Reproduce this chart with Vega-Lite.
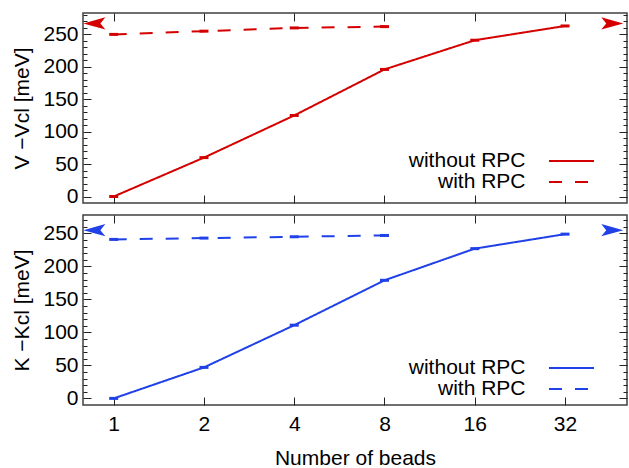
{
  "$schema": "https://vega.github.io/schema/vega-lite/v6.json",
  "autosize": {"type": "pad"},
  "padding": {"left": 11, "top": 11, "right": 1, "bottom": 0},
  "background": "white",
  "config": {
    "font": "Liberation Sans",
    "view": {"stroke": "#404040", "strokeWidth": 1.5},
    "axis": {
      "labelFont": "Liberation Sans", "titleFont": "Liberation Sans",
      "labelFontSize": 21, "titleFontSize": 21, "titleFontWeight": "normal",
      "labelColor": "#000", "titleColor": "#000",
      "domain": false, "grid": false, "tickColor": "#222", "tickWidth": 1
    },
    "legend": {"labelFont": "Liberation Sans", "labelFontSize": 21, "labelColor": "#000", "padding": 0}
  },
  "datasets": {
    "lines": [
      {"panel": "V", "series": "without RPC", "n": 1, "E": 0},
      {"panel": "V", "series": "without RPC", "n": 2, "E": 60},
      {"panel": "V", "series": "without RPC", "n": 4, "E": 125},
      {"panel": "V", "series": "without RPC", "n": 8, "E": 196},
      {"panel": "V", "series": "without RPC", "n": 16, "E": 241},
      {"panel": "V", "series": "without RPC", "n": 32, "E": 263},
      {"panel": "V", "series": "with RPC", "n": 1, "E": 250},
      {"panel": "V", "series": "with RPC", "n": 2, "E": 255},
      {"panel": "V", "series": "with RPC", "n": 4, "E": 260},
      {"panel": "V", "series": "with RPC", "n": 8, "E": 262},
      {"panel": "K", "series": "without RPC", "n": 1, "E": 0},
      {"panel": "K", "series": "without RPC", "n": 2, "E": 47},
      {"panel": "K", "series": "without RPC", "n": 4, "E": 111},
      {"panel": "K", "series": "without RPC", "n": 8, "E": 179},
      {"panel": "K", "series": "without RPC", "n": 16, "E": 227},
      {"panel": "K", "series": "without RPC", "n": 32, "E": 249},
      {"panel": "K", "series": "with RPC", "n": 1, "E": 241},
      {"panel": "K", "series": "with RPC", "n": 2, "E": 243},
      {"panel": "K", "series": "with RPC", "n": 4, "E": 245},
      {"panel": "K", "series": "with RPC", "n": 8, "E": 247}
    ],
    "arrows": [
      {"panel": "V", "dir": "left", "n": 0.862, "E": 267},
      {"panel": "V", "dir": "right", "n": 46, "E": 267},
      {"panel": "K", "dir": "left", "n": 0.862, "E": 255},
      {"panel": "K", "dir": "right", "n": 46, "E": 255}
    ]
  },
  "spacing": 5,
  "resolve": {
    "scale": {"x": "independent", "y": "independent", "strokeDash": "independent", "shape": "independent"},
    "legend": {"strokeDash": "independent"}
  },
  "vconcat": [
    {
      "width": 544, "height": 190,
      "resolve": {"axis": {"x": "independent", "y": "independent"}},
      "layer": [
        {
          "data": {"name": "lines"},
          "transform": [{"filter": "datum.panel === 'V'"}],
          "mark": {"type": "line", "color": "#d40000", "strokeWidth": 2},
          "encoding": {
            "x": {"field": "n", "type": "quantitative",
              "scale": {"type": "log", "base": 2, "domain": [0.79, 51.5], "nice": false},
              "axis": {"orient": "bottom", "values": [1, 2, 4, 8, 16, 32], "labels": false, "tickSize": -8, "title": null}},
            "y": {"field": "E", "type": "quantitative",
              "scale": {"domain": [-10, 283], "nice": false, "zero": false},
              "axis": {"orient": "left", "values": [0,10,20,30,40,50,60,70,80,90,100,110,120,130,140,150,160,170,180,190,200,210,220,230,240,250,260,270,280],
                "tickSize": {"condition": {"test": "datum.value % 50 === 0", "value": -8}, "value": -4},
                "labelFontSize": {"condition": {"test": "datum.value % 50 === 0", "value": 21}, "value": 0},
                "labelExpr": "datum.value % 50 === 0 ? datum.label : ''",
                "labelPadding": 13, "title": "V −Vcl [meV]", "titlePadding": 10}},
            "strokeDash": {"field": "series", "type": "nominal",
              "scale": {"domain": ["without RPC", "with RPC"], "range": [[1, 0], [13, 13]]},
              "legend": {"orient": "none", "legendX": 478, "legendY": 137.5, "title": null,
                "symbolType": "M-4.5,0L4.5,0", "symbolSize": 100, "symbolStrokeWidth": 2, "symbolStrokeColor": "#d40000",
                "labelAlign": "right", "labelOffset": -56.5, "labelLimit": 0, "rowPadding": -2}}
          }
        },
        {
          "data": {"name": "lines"},
          "transform": [{"filter": "datum.panel === 'V'"}],
          "mark": {"type": "tick", "orient": "horizontal", "size": 9, "thickness": 3, "color": "#d40000", "opacity": 1},
          "encoding": {
            "x": {"field": "n", "type": "quantitative",
              "axis": {"orient": "top", "values": [1, 2, 4, 8, 16, 32], "labels": false, "tickSize": -8, "title": null}},
            "y": {"field": "E", "type": "quantitative",
              "axis": {"orient": "right", "values": [0,10,20,30,40,50,60,70,80,90,100,110,120,130,140,150,160,170,180,190,200,210,220,230,240,250,260,270,280],
                "tickSize": {"condition": {"test": "datum.value % 50 === 0", "value": -8}, "value": -4},
                "labels": false, "title": null}}
          }
        },
        {
          "data": {"name": "arrows"},
          "transform": [{"filter": "datum.panel === 'V'"}],
          "mark": {"type": "point", "filled": true, "color": "#d40000", "opacity": 1, "size": 484, "strokeWidth": 0},
          "encoding": {
            "x": {"field": "n", "type": "quantitative", "axis": null},
            "y": {"field": "E", "type": "quantitative", "axis": null},
            "shape": {"field": "dir", "type": "nominal",
              "scale": {"domain": ["left", "right"], "range": ["M-1,0L1,-0.55L0.55,0L1,0.55Z", "M1,0L-1,-0.55L-0.55,0L-1,0.55Z"]},
              "legend": null}
          }
        }
      ]
    },
    {
      "width": 544, "height": 190,
      "resolve": {"axis": {"x": "independent", "y": "independent"}},
      "layer": [
        {
          "data": {"name": "lines"},
          "transform": [{"filter": "datum.panel === 'K'"}],
          "mark": {"type": "line", "color": "#2040e8", "strokeWidth": 2},
          "encoding": {
            "x": {"field": "n", "type": "quantitative",
              "scale": {"type": "log", "base": 2, "domain": [0.79, 51.5], "nice": false},
              "axis": {"orient": "bottom", "values": [1, 2, 4, 8, 16, 32], "tickSize": -8, "labelPadding": 16,
                "title": "Number of beads", "titlePadding": 13}},
            "y": {"field": "E", "type": "quantitative",
              "scale": {"domain": [-10, 278], "nice": false, "zero": false},
              "axis": {"orient": "left", "values": [0,10,20,30,40,50,60,70,80,90,100,110,120,130,140,150,160,170,180,190,200,210,220,230,240,250,260,270],
                "tickSize": {"condition": {"test": "datum.value % 50 === 0", "value": -8}, "value": -4},
                "labelFontSize": {"condition": {"test": "datum.value % 50 === 0", "value": 21}, "value": 0},
                "labelExpr": "datum.value % 50 === 0 ? datum.label : ''",
                "labelPadding": 13, "title": "K −Kcl [meV]", "titlePadding": 10}},
            "strokeDash": {"field": "series", "type": "nominal",
              "scale": {"domain": ["without RPC", "with RPC"], "range": [[1, 0], [13, 13]]},
              "legend": {"orient": "none", "legendX": 478, "legendY": 142.5, "title": null,
                "symbolType": "M-4.5,0L4.5,0", "symbolSize": 100, "symbolStrokeWidth": 2, "symbolStrokeColor": "#2040e8",
                "labelAlign": "right", "labelOffset": -56.5, "labelLimit": 0, "rowPadding": -2}}
          }
        },
        {
          "data": {"name": "lines"},
          "transform": [{"filter": "datum.panel === 'K'"}],
          "mark": {"type": "tick", "orient": "horizontal", "size": 9, "thickness": 3, "color": "#2040e8", "opacity": 1},
          "encoding": {
            "x": {"field": "n", "type": "quantitative",
              "axis": {"orient": "top", "values": [1, 2, 4, 8, 16, 32], "labels": false, "tickSize": -8, "title": null}},
            "y": {"field": "E", "type": "quantitative",
              "axis": {"orient": "right", "values": [0,10,20,30,40,50,60,70,80,90,100,110,120,130,140,150,160,170,180,190,200,210,220,230,240,250,260,270],
                "tickSize": {"condition": {"test": "datum.value % 50 === 0", "value": -8}, "value": -4},
                "labels": false, "title": null}}
          }
        },
        {
          "data": {"name": "arrows"},
          "transform": [{"filter": "datum.panel === 'K'"}],
          "mark": {"type": "point", "filled": true, "color": "#2040e8", "opacity": 1, "size": 484, "strokeWidth": 0},
          "encoding": {
            "x": {"field": "n", "type": "quantitative", "axis": null},
            "y": {"field": "E", "type": "quantitative", "axis": null},
            "shape": {"field": "dir", "type": "nominal",
              "scale": {"domain": ["left", "right"], "range": ["M-1,0L1,-0.55L0.55,0L1,0.55Z", "M1,0L-1,-0.55L-0.55,0L-1,0.55Z"]},
              "legend": null}
          }
        }
      ]
    }
  ]
}
